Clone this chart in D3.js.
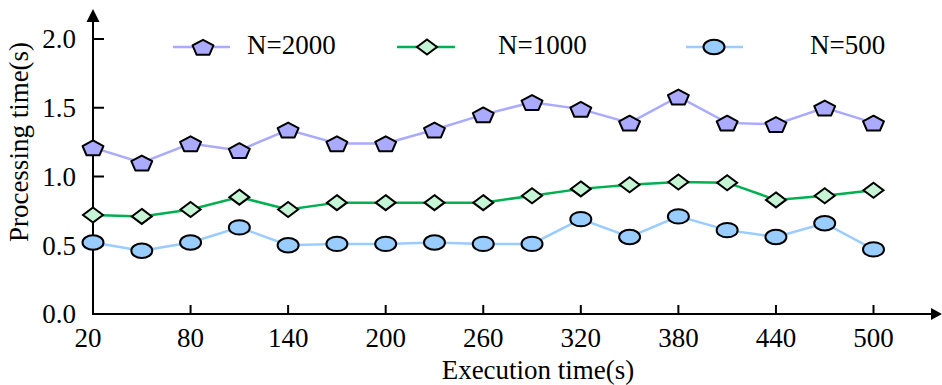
<!DOCTYPE html>
<html><head><meta charset="utf-8">
<script src="https://cdn.jsdelivr.net/npm/d3@7/dist/d3.min.js"></script>
<style>body{margin:0;background:#fff}svg{display:block}</style>
</head><body>
<svg id="c" width="942" height="385"></svg>
<script>
const xValues = [20,50,80,110,140,170,200,230,260,290,320,350,380,410,440,470,500];
const n2000 = [1.21,1.10,1.24,1.19,1.34,1.24,1.24,1.34,1.45,1.54,1.49,1.39,1.58,1.39,1.38,1.50,1.39];
const n1000 = [0.72,0.71,0.76,0.85,0.76,0.81,0.81,0.81,0.81,0.86,0.91,0.94,0.96,0.955,0.83,0.86,0.90];
const n500  = [0.52,0.46,0.52,0.63,0.50,0.51,0.51,0.52,0.51,0.51,0.69,0.56,0.71,0.61,0.56,0.66,0.47];
const xTicks = [20,80,140,200,260,320,380,440,500];
const yTicks = [0.0,0.5,1.0,1.5,2.0];
const seriesNames = ["N=2000","N=1000","N=500"];

const svg = d3.select("#c");
const font = "'Liberation Serif','Times New Roman',serif";
const x = d3.scaleLinear().domain([20,500]).range([93,873.5]);
const y = d3.scaleLinear().domain([0,2]).range([314,39]);

const series = [
  {name:seriesNames[0], values:n2000, line:"#aaaaff", fill:"#aaaaff", shape:"pentagon", lx:[173,230], mx:203, tx:247},
  {name:seriesNames[1], values:n1000, line:"#00b050", fill:"#c6f5d6", shape:"diamond", lx:[397,455], mx:427, tx:498},
  {name:seriesNames[2], values:n500,  line:"#99ccff", fill:"#99ccff", shape:"ellipse", lx:[686,743], mx:714, tx:810}
];

function pentagonPath(){
  const rx=11, ry=8.2, pts=[];
  for(let i=0;i<5;i++){const a=-Math.PI/2+i*2*Math.PI/5; pts.push([rx*Math.cos(a), ry*Math.sin(a)+1]);}
  return "M"+pts.map(p=>p.join(",")).join("L")+"Z";
}
function drawMarker(g, s, cx, cy){
  if(s.shape==="pentagon"){
    g.append("path").attr("d",pentagonPath()).attr("transform",`translate(${cx},${cy})`)
      .attr("fill",s.fill).attr("stroke","#000").attr("stroke-width",2).attr("stroke-linejoin","round");
  } else if(s.shape==="diamond"){
    g.append("path").attr("d","M0,-7.5L10,0L0,7.5L-10,0Z").attr("transform",`translate(${cx},${cy})`)
      .attr("fill",s.fill).attr("stroke","#000").attr("stroke-width",2);
  } else {
    g.append("ellipse").attr("cx",cx).attr("cy",cy).attr("rx",10.5).attr("ry",7.2)
      .attr("fill",s.fill).attr("stroke","#000").attr("stroke-width",2);
  }
}

// axes
const ax = svg.append("g").attr("stroke","#000").attr("stroke-width",2);
ax.append("line").attr("x1",93).attr("x2",933).attr("y1",314).attr("y2",314);
ax.append("line").attr("x1",93).attr("x2",93).attr("y1",315).attr("y2",20);
svg.append("path").attr("d","M942,314L931,308L931,320Z").attr("fill","#000");
svg.append("path").attr("d","M93,9L86.5,22L99.5,22Z").attr("fill","#000");

yTicks.forEach(t=>{
  ax.append("line").attr("x1",93).attr("x2",104).attr("y1",y(t)).attr("y2",y(t));
  svg.append("text").attr("x",76).attr("y",y(t)).attr("dy","0.35em").attr("text-anchor","end")
    .attr("font-family",font).attr("font-size",27).text(t.toFixed(1));
});
xTicks.forEach(t=>{
  ax.append("line").attr("x1",x(t)).attr("x2",x(t)).attr("y1",314).attr("y2",305);
  svg.append("text").attr("x",x(t)-(t===20?5:0)).attr("y",347).attr("text-anchor","middle")
    .attr("font-family",font).attr("font-size",27).text(t);
});

svg.append("text").attr("x",538).attr("y",379).attr("text-anchor","middle")
  .attr("font-family",font).attr("font-size",27).text("Execution time(s)");
svg.append("text").attr("transform","translate(28,142) rotate(-90)").attr("text-anchor","middle")
  .attr("font-family",font).attr("font-size",27).text("Processing time(s)");

// series
const lineGen = d3.line().x((d,i)=>x(xValues[i])).y(d=>y(d));
series.forEach(s=>{
  svg.append("path").attr("d",lineGen(s.values)).attr("fill","none").attr("stroke",s.line).attr("stroke-width",2.5);
});
series.forEach(s=>{
  const g = svg.append("g");
  s.values.forEach((v,i)=>drawMarker(g,s,x(xValues[i]),y(v)));
});

// legend
series.forEach(s=>{
  const g = svg.append("g");
  g.append("line").attr("x1",s.lx[0]).attr("x2",s.lx[1]).attr("y1",47).attr("y2",47).attr("stroke",s.line).attr("stroke-width",2.5);
  drawMarker(g,s,s.mx,47);
  g.append("text").attr("x",s.tx).attr("y",53.5).attr("font-family",font).attr("font-size",27).text(s.name);
});
</script>
</body></html>
